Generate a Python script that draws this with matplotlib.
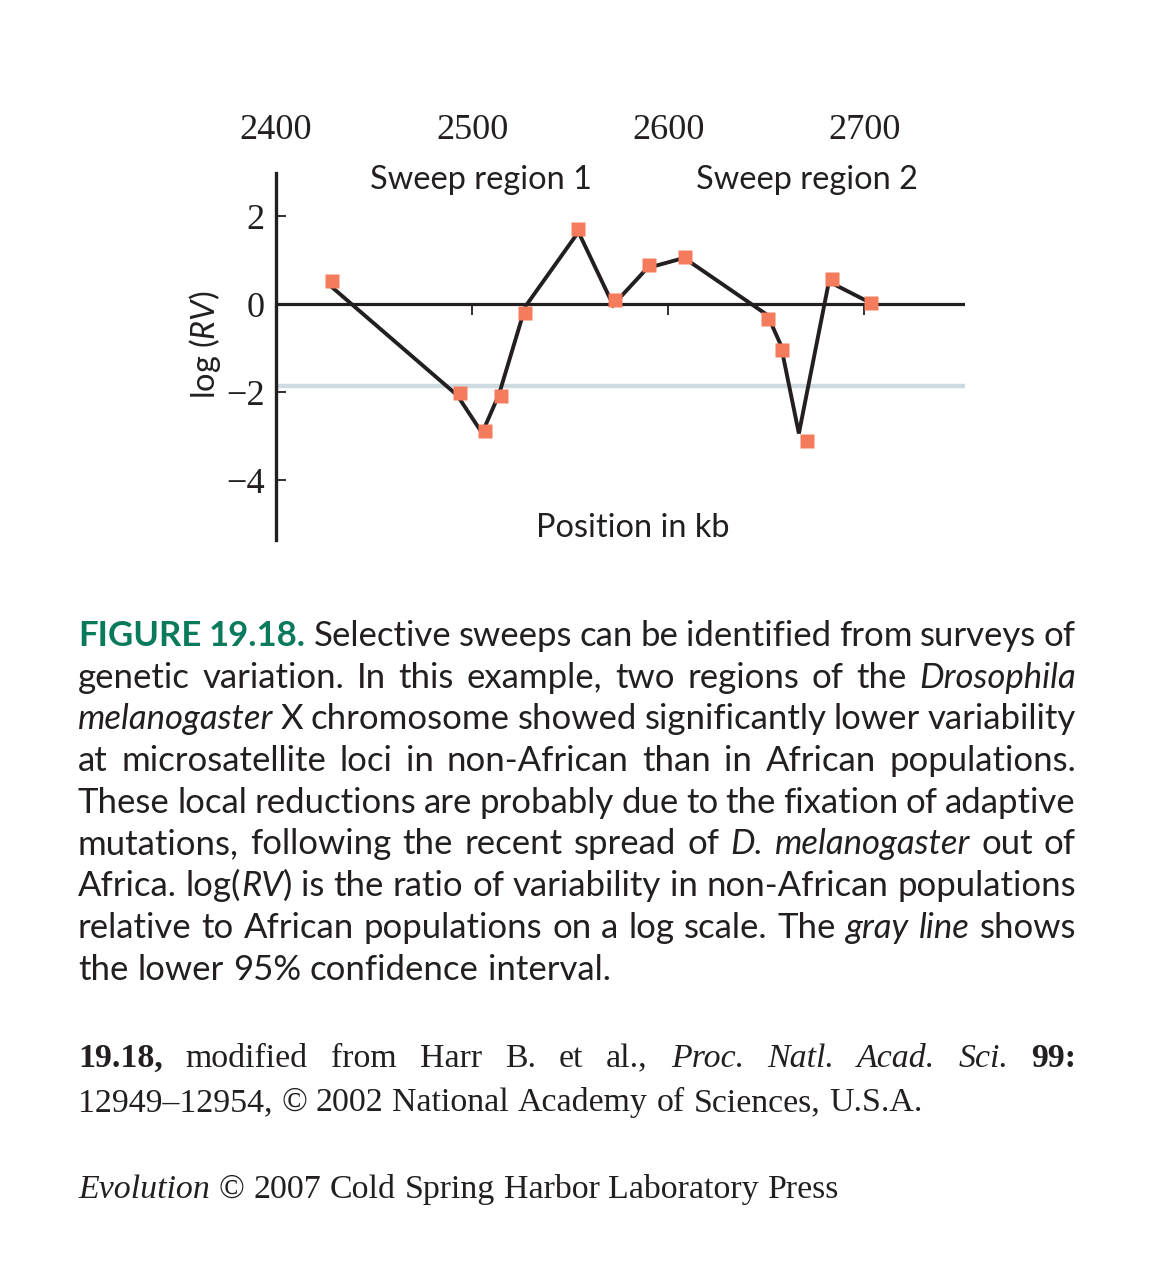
import numpy as np
import matplotlib
matplotlib.use("Agg")
import matplotlib.pyplot as plt

plt.rcParams['mathtext.fontset'] = 'custom'
plt.rcParams['mathtext.rm'] = 'Lato'
plt.rcParams['mathtext.it'] = 'Lato:italic'

# data (position in kb, log(RV))
mark_kb = [2428.6, 2493.8, 2506.8, 2514.9, 2526.8, 2554.2, 2573.1,
           2590.2, 2608.3, 2650.9, 2658.2, 2670.9, 2683.6, 2703.4]
mark_logrv = [0.52, -2.01, -2.89, -2.09, -0.20, 1.70, 0.09,
              0.89, 1.08, -0.34, -1.05, -3.11, 0.56, 0.03]
# the connecting line was drawn a little off the squares in the original
line_kb = [2427.9, 2492.4, 2505.1, 2513.7, 2527.2, 2554.2, 2571.9,
           2589.3, 2608.1, 2650.6, 2657.4, 2666.6, 2681.9, 2702.2]
line_logrv = [0.41, -2.07, -2.93, -2.05, -0.05, 1.64, -0.02,
              0.82, 1.05, -0.25, -0.93, -2.94, 0.51, 0.05]
ci_low = -1.87

xticks = [2400, 2500, 2600, 2700]
xtick_marks = [2500, 2600, 2700]
yticks = [2, 0, -2, -4]
ytick_labels = ['2', '0', '\u22122', '\u22124']
regions = ['Sweep region 1', 'Sweep region 2']
region_kb = [2504.6, 2670.6]

caption = [
    "@FIGURE @19.18. Selective sweeps can be identified from surveys of",
    "genetic variation. In this example, two regions of the _Drosophila_",
    "_melanogaster_ X chromosome showed significantly lower variability",
    "at microsatellite loci in non-African than in African populations.",
    "These local reductions are probably due to the fixation of adaptive",
    "mutations, following the recent spread of _D._ _melanogaster_ out of",
    "Africa. log(_RV_) is the ratio of variability in non-African populations",
    "relative to African populations on a log scale. The _gray_ _line_ shows",
    "the lower 95% confidence interval.",
]
credit = [
    "^19.18,^ modified from Harr B. et al., _Proc._ _Natl._ _Acad._ _Sci._ ^99:^",
    "12949\u201312954, \u00a9 2002 National Academy of Sciences, U.S.A.",
]
book = ["_Evolution_ \u00a9 2007 Cold Spring Harbor Laboratory Press"]

W, H = 1176, 1284
SANS = 'Lato'
SERIF = 'Liberation Serif'
INK = '#231f20'
GREEN = '#0a7a5c'

fig = plt.figure(figsize=(W / 100, H / 100), dpi=100)
renderer = fig.canvas.get_renderer()


def fit_size(s, fam, target, ref=20, **kw):
    t = fig.text(0, 0, s, fontfamily=fam, fontsize=ref, **kw)
    w = t.get_window_extent(renderer).width
    t.remove()
    return ref * target / w


def parse(word):
    green = word.startswith('@')
    if green:
        word = word[1:]
    segs, buf = [], ''
    it = bd = False
    for ch in word:
        if ch in '_^':
            if buf:
                segs.append((buf, it, bd))
            buf = ''
            if ch == '_':
                it = not it
            else:
                bd = not bd
        else:
            buf += ch
    if buf:
        segs.append((buf, it, bd))
    out = []
    for s, i, b in segs:
        out.append((s, dict(fontstyle='italic' if i else 'normal',
                            fontweight='bold' if (b or green) else 'normal',
                            color=GREEN if green else INK)))
    return out


def put_line(line, y_px, fam, size, justify, x0=78, x1=1076):
    items = []
    for word in line.split(' '):
        parts = []
        for s, st in parse(word):
            t = fig.text(0, 1 - y_px / H, s, fontfamily=fam, fontsize=size,
                         va='baseline', ha='left', **st)
            parts.append((t, t.get_window_extent(renderer).width))
        items.append(parts)
    widths = [sum(w for _, w in p) for p in items]
    if justify and len(items) > 1:
        gap = (x1 - x0 - sum(widths)) / (len(items) - 1)
    else:
        gap = size * 100 / 72 * 0.26
    x = x0
    for p in items:
        for t, w in p:
            t.set_x(x / W)
            x += w
        x += gap


# ---------------- chart ----------------
ax = fig.add_axes([276 / W, 1 - 540 / H, (965 - 276) / W, (540 - 173) / H])
ax.set_xlim(2401.5, 2751.3)
ax.set_ylim(-5.36, 2.98)
for side in ['top', 'right', 'bottom']:
    ax.spines[side].set_visible(False)
ax.spines['left'].set_linewidth(2.4)
ax.spines['left'].set_color(INK)

ax.axhline(ci_low, color='#cddae0', lw=3.2, zorder=1)
ax.axhline(0, color=INK, lw=2.3, zorder=2)
ax.vlines(xtick_marks, -0.25, 0, color=INK, lw=1.3, zorder=2)

ax.plot(line_kb, line_logrv, color=INK, lw=2.8, zorder=3,
        solid_joinstyle='miter')
ax.plot(mark_kb, mark_logrv, ls='none', marker='s', ms=9.6,
        mfc='#f47b5c', mec='none', zorder=4)

tick_size = fit_size('2400', SERIF, 72)
sans_size = fit_size('Position in kb', SANS, 194)

ax.set_xticks(xticks)
ax.set_xticklabels([str(v) for v in xticks], fontfamily=SERIF,
                   fontsize=tick_size, color=INK)
ax.xaxis.set_ticks_position('top')
ax.tick_params(axis='x', length=0, pad=19)

ax.set_yticks(yticks)
ax.set_yticklabels(ytick_labels, fontfamily=SERIF, fontsize=tick_size,
                   color=INK)
ax.tick_params(axis='y', direction='in', length=7.5, width=1.3,
               color=INK, pad=8)

for lab, xk in zip(regions, region_kb):
    ax.text(xk, 2.82, lab, ha='center', va='center', fontfamily=SANS,
            fontsize=sans_size, color=INK)
ax.text(2581.7, -5.09, 'Position in kb', ha='center', va='center',
        fontfamily=SANS, fontsize=sans_size, color=INK)

ylab = r'log ($\mathit{RV}$)'
fig.text(205 / W, 1 - 345 / H, ylab, rotation=90, ha='center', va='center',
         fontfamily=SANS, fontsize=sans_size, color=INK)

# ---------------- caption ----------------
cap_size = fit_size('the lower 95% confidence interval.', SANS, 533)
y0 = 646
for i, line in enumerate(caption):
    put_line(line, y0 + i * 41.7, SANS, cap_size,
             justify=(i < len(caption) - 1))

ser_size = fit_size(credit[1].replace('_', '').replace('^', ''), SERIF, 841)
put_line(credit[0], 1067, SERIF, ser_size, justify=True)
put_line(credit[1], 1111, SERIF, ser_size, justify=False)
put_line(book[0], 1198, SERIF, ser_size, justify=False)

fig.savefig('out.png', dpi=100)
